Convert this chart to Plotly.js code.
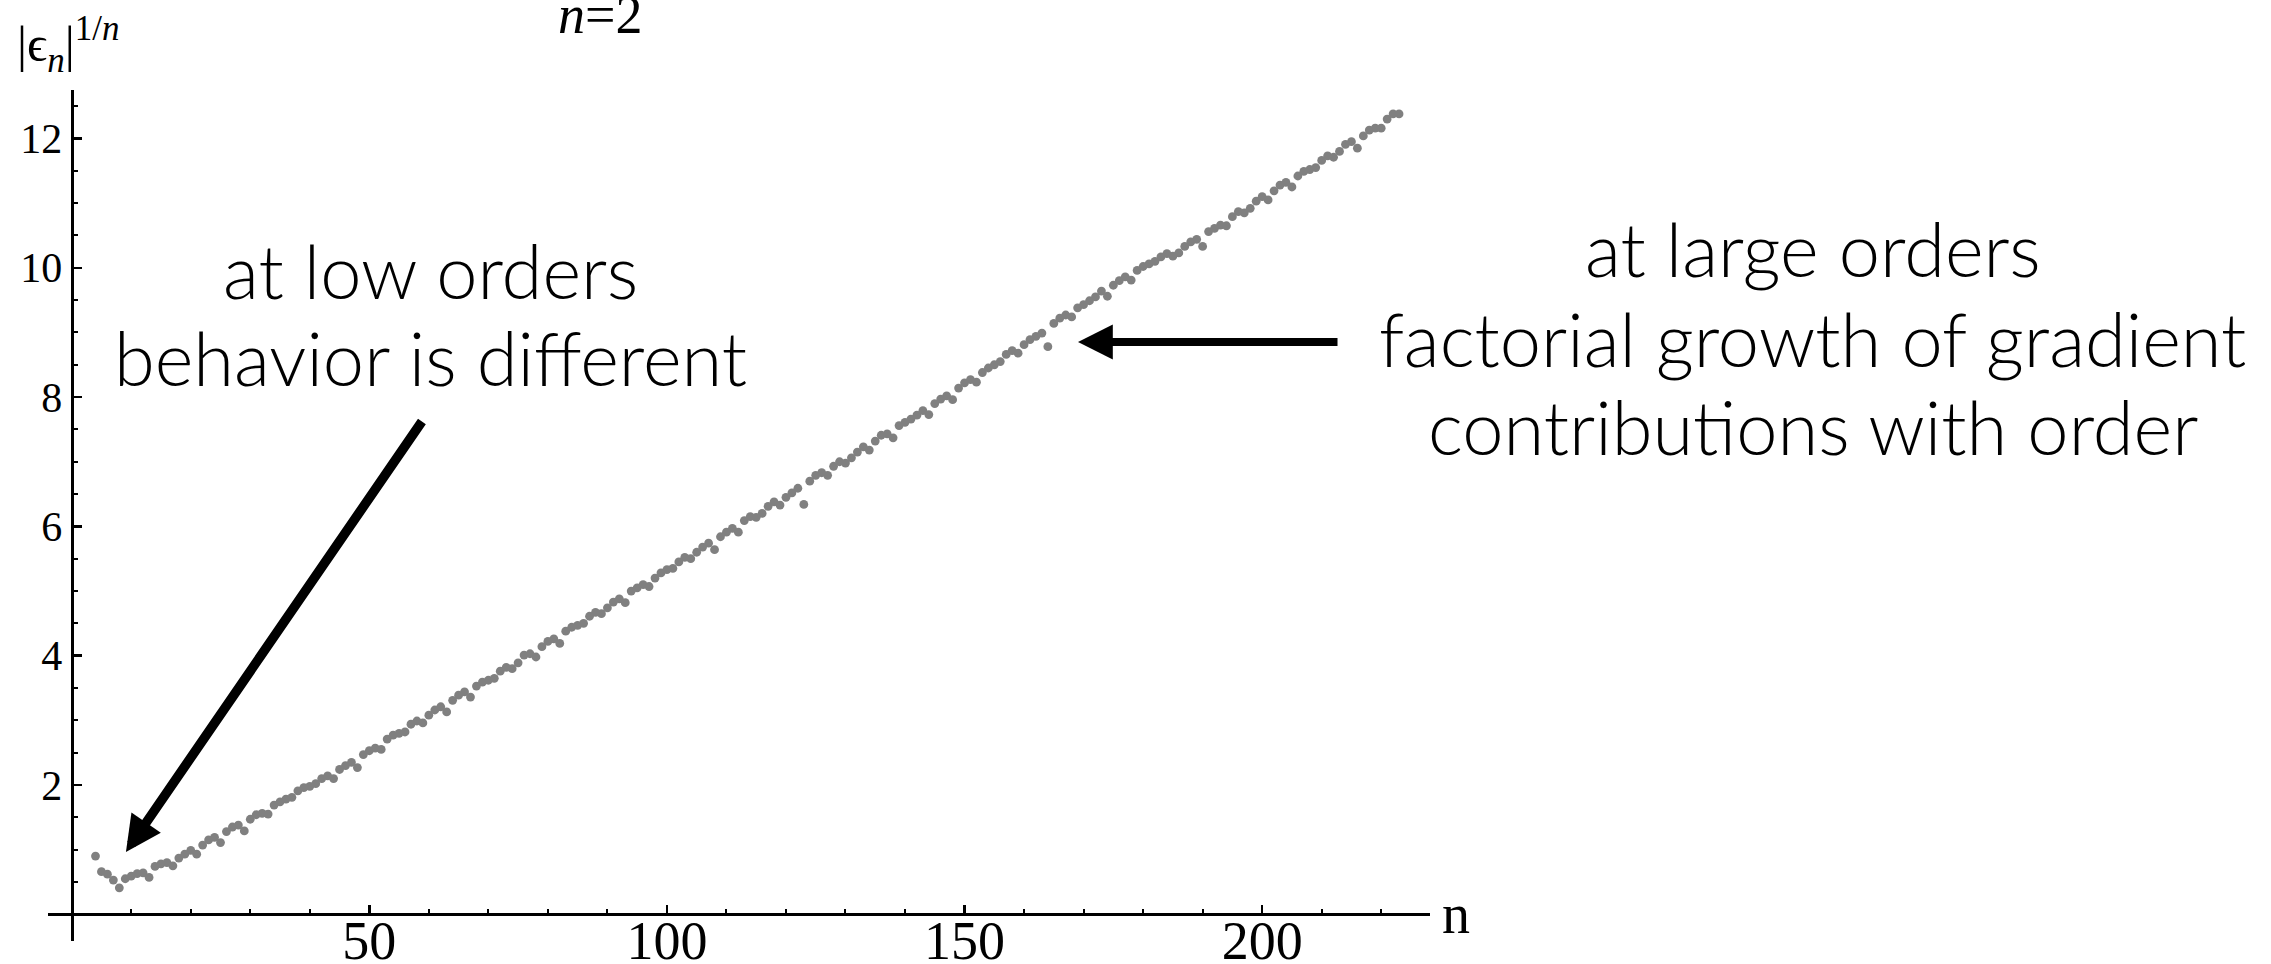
<!DOCTYPE html>
<html>
<head>
<meta charset="utf-8">
<script src="https://cdn.plot.ly/plotly-3.0.1.min.js"></script>
<style>
  html, body { margin: 0; padding: 0; background: #ffffff; }
  #chart { width: 2271px; height: 964px; }
</style>
</head>
<body>
<div id="chart"></div>
<script>
// Perturbative order n
const orderN = [
  4, 5, 6, 7, 8, 9, 10, 11, 12, 13,
  14, 15, 16, 17, 18, 19, 20, 21, 22, 23,
  24, 25, 26, 27, 28, 29, 30, 31, 32, 33,
  34, 35, 36, 37, 38, 39, 40, 41, 42, 43,
  44, 45, 46, 47, 48, 49, 50, 51, 52, 53,
  54, 55, 56, 57, 58, 59, 60, 61, 62, 63,
  64, 65, 66, 67, 68, 69, 70, 71, 72, 73,
  74, 75, 76, 77, 78, 79, 80, 81, 82, 83,
  84, 85, 86, 87, 88, 89, 90, 91, 92, 93,
  94, 95, 96, 97, 98, 99, 100, 101, 102, 103,
  104, 105, 106, 107, 108, 109, 110, 111, 112, 113,
  114, 115, 116, 117, 118, 119, 120, 121, 122, 123,
  124, 125, 126, 127, 128, 129, 130, 131, 132, 133,
  134, 135, 136, 137, 138, 139, 140, 141, 142, 143,
  144, 145, 146, 147, 148, 149, 150, 151, 152, 153,
  154, 155, 156, 157, 158, 159, 160, 161, 162, 163,
  164, 165, 166, 167, 168, 169, 170, 171, 172, 173,
  174, 175, 176, 177, 178, 179, 180, 181, 182, 183,
  184, 185, 186, 187, 188, 189, 190, 191, 192, 193,
  194, 195, 196, 197, 198, 199, 200, 201, 202, 203,
  204, 205, 206, 207, 208, 209, 210, 211, 212, 213,
  214, 215, 216, 217, 218, 219, 220, 221, 222, 223
];

// |eps_n|^(1/n) for each order
const rootCoeff = [
  0.90, 0.66, 0.62, 0.53, 0.41, 0.55, 0.59, 0.63, 0.64, 0.57,
  0.74, 0.78, 0.80, 0.75, 0.87, 0.93, 0.99, 0.93, 1.07, 1.15,
  1.19, 1.11, 1.28, 1.35, 1.38, 1.29, 1.47, 1.54, 1.56, 1.55,
  1.69, 1.74, 1.78, 1.81, 1.91, 1.96, 1.98, 2.02, 2.10, 2.14,
  2.10, 2.24, 2.30, 2.35, 2.27, 2.47, 2.53, 2.57, 2.55, 2.71,
  2.77, 2.80, 2.82, 2.94, 2.99, 2.96, 3.08, 3.16, 3.21, 3.13,
  3.31, 3.39, 3.44, 3.36, 3.53, 3.59, 3.62, 3.65, 3.76, 3.82,
  3.80, 3.89, 4.01, 4.03, 3.98, 4.14, 4.22, 4.26, 4.19, 4.38,
  4.44, 4.47, 4.50, 4.61, 4.67, 4.65, 4.74, 4.83, 4.88, 4.82,
  5.00, 5.05, 5.10, 5.07, 5.20, 5.28, 5.33, 5.35, 5.45, 5.52,
  5.50, 5.60, 5.68, 5.74, 5.64, 5.84, 5.91, 5.97, 5.91, 6.09,
  6.15, 6.14, 6.20, 6.31, 6.38, 6.33, 6.45, 6.52, 6.59, 6.34,
  6.70, 6.79, 6.83, 6.79, 6.93, 7.00, 6.98, 7.06, 7.15, 7.23,
  7.18, 7.32, 7.41, 7.43, 7.37, 7.56, 7.61, 7.66, 7.72, 7.79,
  7.73, 7.90, 7.97, 8.02, 7.96, 8.14, 8.22, 8.27, 8.23, 8.38,
  8.45, 8.50, 8.55, 8.66, 8.72, 8.68, 8.81, 8.89, 8.94, 8.99,
  8.78, 9.14, 9.22, 9.27, 9.24, 9.38, 9.43, 9.49, 9.55, 9.64,
  9.56, 9.73, 9.80, 9.86, 9.81, 9.96, 10.02, 10.06, 10.10, 10.17,
  10.22, 10.18, 10.23, 10.33, 10.40, 10.44, 10.33, 10.56, 10.61, 10.66,
  10.65, 10.79, 10.87, 10.85, 10.92, 11.03, 11.10, 11.05, 11.19, 11.28,
  11.32, 11.25, 11.42, 11.49, 11.52, 11.55, 11.66, 11.73, 11.71, 11.80,
  11.91, 11.95, 11.85, 12.04, 12.13, 12.16, 12.16, 12.30, 12.38, 12.38
];

// Axis ticks
const xMajorTicks = [50, 100, 150, 200];
const xMinorTicks = [10, 20, 30, 40, 60, 70, 80, 90, 110, 120, 130, 140, 160, 170, 180, 190, 210, 220];
const yMajorTicks = [2, 4, 6, 8, 10, 12];
const yMinorTicks = [0.5, 1, 1.5, 2.5, 3, 3.5, 4.5, 5, 5.5, 6.5, 7, 7.5, 8.5, 9, 9.5, 10.5, 11, 11.5, 12.5];

// Commentary lines
const lowOrderNote = ['at low orders', 'behavior is different'];
const highOrderNote = ['at large orders', 'factorial growth of gradient', 'contributions with order'];

const serif = 'Liberation Serif, Times New Roman, serif';
const sans = 'Lato, Open Sans, sans-serif';

const trace = {
  x: orderN,
  y: rootCoeff,
  type: 'scatter',
  mode: 'markers',
  marker: { color: '#808080', size: 8.8, line: { width: 0 } },
  hoverinfo: 'x+y',
  cliponaxis: false
};

const axisCommon = {
  showline: true,
  linecolor: '#000',
  linewidth: 3,
  showgrid: false,
  zeroline: false,
  ticks: 'inside',
  tickcolor: '#000',
  tickwidth: 2.5,
  ticklen: 8,
  tickmode: 'array',
  anchor: 'free'
};

function noteLine(text, x, y) {
  return {
    xref: 'paper', yref: 'paper', x: x, y: y, xanchor: 'center', yanchor: 'middle',
    text: text, showarrow: false,
    font: { family: sans, size: 74, weight: 300, color: '#000' }
  };
}

const layout = {
  width: 2271,
  height: 964,
  margin: { l: 48, r: 841, t: 90, b: 23 },
  paper_bgcolor: '#ffffff',
  plot_bgcolor: '#ffffff',
  showlegend: false,
  xaxis: Object.assign({}, axisCommon, {
    range: [-3.98, 228.2],
    position: 0.0314,
    tickvals: xMajorTicks,
    ticktext: xMajorTicks.map(String),
    ticklabelstandoff: -22,
    tickfont: { family: serif, size: 54, color: '#000' },
    minor: { tickmode: 'array', tickvals: xMinorTicks, ticks: 'inside', ticklen: 4, tickwidth: 2, tickcolor: '#000' }
  }),
  yaxis: Object.assign({}, axisCommon, {
    range: [-0.413, 12.75],
    position: 0.01715,
    tickvals: yMajorTicks,
    ticktext: yMajorTicks.map(String),
    tickfont: { family: serif, size: 42, color: '#000' },
    minor: { tickmode: 'array', tickvals: yMinorTicks, ticks: 'inside', ticklen: 4, tickwidth: 2, tickcolor: '#000' }
  }),
  annotations: [
    // axis labels and panel title
    { xref: 'paper', yref: 'paper', x: -0.0239, y: 1.053, xanchor: 'left', yanchor: 'middle',
      text: '|ϵ<sub><i>n</i></sub>|<sup>1/<i>n</i></sup>', showarrow: false,
      font: { family: serif, size: 50, color: '#000' } },
    { xref: 'paper', yref: 'paper', x: 0.3994, y: 1.088, xanchor: 'center', yanchor: 'middle',
      text: '<i>n</i>=2', showarrow: false,
      font: { family: serif, size: 54, color: '#000' } },
    { xref: 'paper', yref: 'paper', x: 1.0072, y: 0.0317, xanchor: 'left', yanchor: 'middle',
      text: 'n', showarrow: false,
      font: { family: serif, size: 56, color: '#000' } },
    // commentary
    noteLine(lowOrderNote[0], 0.2771, 0.7879),
    noteLine(lowOrderNote[1], 0.2771, 0.6857),
    noteLine(highOrderNote[0], 1.2771, 0.8137),
    noteLine(highOrderNote[1], 1.2771, 0.7080),
    noteLine(highOrderNote[2], 1.2771, 0.6045),
    // arrows
    { xref: 'paper', yref: 'paper', x: 0.0564, y: 0.1046, text: '', showarrow: true,
      ax: 297, ay: -432, arrowhead: 2, arrowsize: 0.75, arrowwidth: 9.5, arrowcolor: '#000', standoff: 0 },
    { xref: 'paper', yref: 'paper', x: 0.7453, y: 0.7039, text: '', showarrow: true,
      ax: 261, ay: 0, arrowhead: 2, arrowsize: 0.87, arrowwidth: 8, arrowcolor: '#000', standoff: 0 }
  ]
};

Plotly.newPlot('chart', [trace], layout, { displayModeBar: false, staticPlot: true });
</script>
</body>
</html>
